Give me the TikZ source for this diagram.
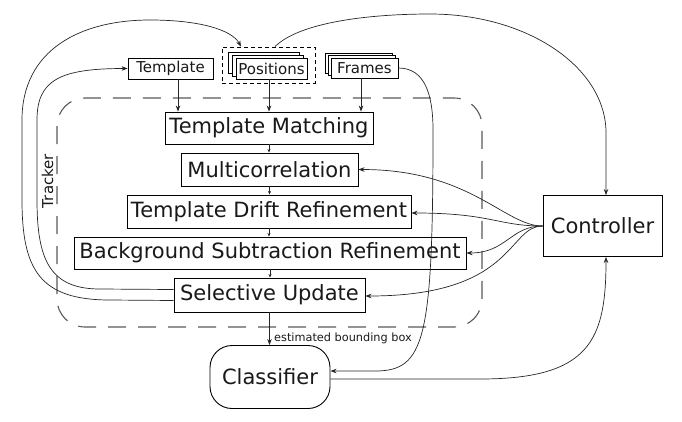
\documentclass[tikz,border=0pt]{standalone}
\usepackage{fontspec}
\setmainfont{DejaVu Sans}
\usetikzlibrary{arrows.meta,calc}
\begin{document}
\begin{tikzpicture}[x=1pt,y=-1pt,
  box/.style={draw, line width=0.9pt, inner sep=0pt, fill=white, font=\fontsize{21}{24}\selectfont, text=black!90},
  sbox/.style={draw, line width=0.8pt, inner sep=0pt, fill=white, minimum width=71pt, minimum height=21pt, font=\fontsize{15}{17}\selectfont, text=black!90},
  arr/.style={-{Stealth[length=6pt,width=4.5pt]}, line width=0.7pt, black!85},
  sarr/.style={-{Stealth[length=3.5pt,width=3pt]}, line width=0.7pt, black!85},
  conn/.style={line width=0.7pt, black!85}]
\useasboundingbox (0,0) rectangle (682,421);

% tracker frame
\draw[rounded corners=28pt, dash pattern=on 18pt off 12pt, line width=1.1pt, black!65]
  (57,98) rectangle (482,327);
\node[rotate=90, font=\fontsize{15}{17}\selectfont, text=black!90] (trk) at (47.5,181) {Tracker};

% inputs
\node[sbox, minimum width=85pt] (template) at (170.5,68.5) {Template};
\node[draw, dash pattern=on 4pt off 3pt, line width=0.8pt, minimum width=93pt, minimum height=36pt, inner sep=0pt] (posbox) at (268.5,65) {};
\node[sbox] (pos3) at (263.5,62.5) {};
\node[sbox] (pos2) at (267.5,65.5) {};
\node[sbox] (pos) at (271.5,68.5) {Positions};
\node[sbox, minimum width=67pt, minimum height=20pt] (fr3) at (358.5,63) {};
\node[sbox, minimum width=67pt, minimum height=20pt] (fr2) at (361.5,65.5) {};
\node[sbox, minimum width=67pt, minimum height=20pt] (frames) at (364.5,68) {Frames};

% tracker stages
\node[box, minimum width=208pt, minimum height=32pt] (tm) at (269,128) {Template Matching};
\node[box, minimum width=177pt, minimum height=33pt] (mc) at (269.5,169.5) {Multicorrelation};
\node[box, minimum width=284pt, minimum height=33pt] (tdr) at (269,211.5) {Template Drift Refinement};
\node[box, minimum width=392pt, minimum height=32pt] (bsr) at (270,253) {Background Subtraction Refinement};
\node[box, minimum width=191pt, minimum height=34pt] (su) at (269.5,295) {Selective Update};

\node[box, rounded corners=22pt, minimum width=120pt, minimum height=63pt, font=\fontsize{21}{24}\selectfont] (cls) at (270,377) {Classifier};
\node[box, minimum width=119pt, minimum height=61pt, font=\fontsize{21}{24}\selectfont] (ctrl) at (602.5,226) {Controller};

% input arrows
\draw[arr] ([xshift=7.5pt]template.south) -- ([xshift=7.5pt]template.south |- tm.north);
\draw[arr] ([xshift=-2.5pt]pos.south) -- ([xshift=-2.5pt]pos.south |- tm.north);
\draw[arr] ([xshift=-3.5pt]frames.south) -- ([xshift=-3.5pt]frames.south |- tm.north);

% chain
\draw[sarr] (tm.south) -- (tm.south |- mc.north);
\draw[sarr] (mc.south) -- (mc.south |- tdr.north);
\draw[sarr] (tdr.south) -- (tdr.south |- bsr.north);
\draw[sarr] (bsr.south) -- (bsr.south |- su.north);
\draw[arr] (su.south) -- (su.south |- cls.north)
  node[pos=0.78, right=1pt, font=\fontsize{11.3}{13}\selectfont, text=black!90] (ebb) {estimated bounding box};

% controller fan-out
\draw[arr] (ctrl.west) .. controls +(-38,0) and +(112,0) .. (mc.east);
\draw[arr] (ctrl.west) .. controls +(-45,0) and +(80,0) .. ([yshift=-1.5pt]tdr.east);
\draw[arr] (ctrl.west) .. controls +(-32,0) and +(40,0) .. (bsr.east);
\draw[arr] (ctrl.west) .. controls +(-35,0) and +(150,0) .. ([yshift=-1pt]su.east);

% positions -> controller
\coordinate (tr1) at (430,14);
\coordinate (tr2) at (606,133);
\draw[arr] ([xshift=6.5pt]posbox.north) .. controls (300,22) and (370,14) .. (tr1)
  .. controls (527,14) and (606,67) .. (tr2) -- (ctrl.north -| tr2);

% frames -> classifier
\coordinate (fa) at (433,130);
\coordinate (fb) at (375,371);
\draw[arr] (frames.east) .. controls (425,68) and (433,95) .. (fa)
  .. controls (433,340) and (425,371) .. (fb) -- ([yshift=6pt]cls.east);

% classifier -> controller
\coordinate (ca) at (480,379);
\draw[arr] ([yshift=-2pt]cls.east) -- (ca) .. controls (590,379) and (606,340) .. (ctrl.south -| tr2);

% selective update -> positions (outer)
\coordinate (o1) at (110,300);
\coordinate (o2) at (22,200);
\coordinate (o3) at (22,120);
\coordinate (o4) at (150,20);
\draw[arr] ([yshift=-5.5pt]su.west) -- (o1) .. controls (40,300) and (22,270) .. (o2) -- (o3)
  .. controls (22,50) and (80,20) .. (o4) .. controls (200,20) and (232,30) .. ([xshift=-27.5pt]posbox.north);

% selective update -> template (inner)
\coordinate (i1) at (100,289);
\coordinate (i2) at (37,200);
\coordinate (i3) at (37,120);
\draw[arr] ([yshift=5.5pt]su.west) -- (i1) .. controls (50,289) and (37,260) .. (i2) -- (i3)
  .. controls (37,80) and (60,68.5) .. (template.west);
\end{tikzpicture}
\end{document}
